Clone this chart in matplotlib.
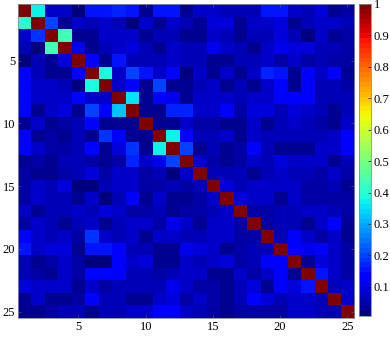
import numpy as np
import matplotlib
matplotlib.use("Agg")
import matplotlib.pyplot as plt

# 25x25 similarity matrix
row01 = [1, 0.37, 0.08, 0.07, 0.02, 0.15, 0.15, 0.17, 0.16, 0.03, 0.15, 0.15, 0.03, 0.07, 0.07, 0.06, 0.06, 0.06, 0.15, 0.16, 0.07, 0.06, 0.09, 0.03, 0.04]
row02 = [0.40, 1, 0.20, 0.03, 0.07, 0.06, 0.07, 0.06, 0.02, 0.07, 0.03, 0.08, 0.06, 0.03, 0.09, 0.09, 0.03, 0.07, 0.07, 0.09, 0.03, 0.06, 0.08, 0.07, 0.06]
row03 = [0.07, 0.18, 1, 0.44, 0.03, 0.03, 0.07, 0.07, 0.07, 0.03, 0.06, 0.06, 0.03, 0.03, 0.07, 0.06, 0.03, 0.06, 0.06, 0.09, 0.06, 0.02, 0.08, 0.03, 0.04]
row04 = [0.06, 0.02, 0.44, 1, 0.11, 0.03, 0.06, 0.08, 0.09, 0.06, 0.03, 0.07, 0.06, 0.06, 0.11, 0.07, 0.06, 0.03, 0.07, 0.11, 0.09, 0.09, 0.06, 0.06, 0.04]
row05 = [0.02, 0.06, 0.03, 0.09, 1, 0.13, 0.03, 0.15, 0.06, 0.06, 0.06, 0.07, 0.06, 0.06, 0.03, 0.03, 0.06, 0.06, 0.07, 0.04, 0.07, 0.04, 0.06, 0.04, 0.04]
row06 = [0.13, 0.06, 0.03, 0.03, 0.13, 1, 0.38, 0.08, 0.20, 0.15, 0.07, 0.14, 0.02, 0.08, 0.03, 0.08, 0.03, 0.07, 0.17, 0.15, 0.03, 0.12, 0.07, 0.12, 0.03]
row07 = [0.12, 0.07, 0.08, 0.06, 0.02, 0.38, 1, 0.08, 0.12, 0.03, 0.20, 0.03, 0.03, 0.06, 0.07, 0.03, 0.06, 0.03, 0.07, 0.14, 0.03, 0.12, 0.06, 0.06, 0.04]
row08 = [0.14, 0.07, 0.07, 0.08, 0.14, 0.08, 0.08, 1, 0.35, 0.03, 0.13, 0.11, 0.03, 0.08, 0.08, 0.07, 0.06, 0.07, 0.07, 0.12, 0.12, 0.12, 0.06, 0.06, 0.06]
row09 = [0.13, 0.03, 0.07, 0.09, 0.03, 0.20, 0.12, 0.33, 1, 0.03, 0.03, 0.17, 0.17, 0.08, 0.07, 0.12, 0.04, 0.09, 0.09, 0.06, 0.09, 0.07, 0.06, 0.03, 0.06]
row10 = [0.03, 0.07, 0.03, 0.04, 0.06, 0.14, 0.03, 0.03, 0.03, 1, 0.03, 0.03, 0.08, 0.04, 0.04, 0.03, 0.03, 0.08, 0.03, 0.06, 0.08, 0.06, 0.04, 0.03, 0.07]
row11 = [0.13, 0.03, 0.04, 0.03, 0.06, 0.03, 0.18, 0.12, 0.03, 0.03, 1, 0.37, 0.12, 0.06, 0.06, 0.08, 0.03, 0.07, 0.06, 0.06, 0.06, 0.06, 0.06, 0.07, 0.12]
row12 = [0.12, 0.07, 0.04, 0.04, 0.06, 0.14, 0.03, 0.09, 0.18, 0.03, 0.37, 1, 0.20, 0.03, 0.06, 0.03, 0.04, 0.12, 0.06, 0.03, 0.03, 0.03, 0.08, 0.08, 0.12]
row13 = [0.03, 0.04, 0.03, 0.06, 0.06, 0.04, 0.03, 0.04, 0.17, 0.08, 0.11, 0.20, 1, 0.08, 0.04, 0.03, 0.04, 0.07, 0.06, 0.09, 0.08, 0.08, 0.07, 0.03, 0.06]
row14 = [0.04, 0.03, 0.03, 0.04, 0.06, 0.09, 0.04, 0.07, 0.08, 0.04, 0.06, 0.02, 0.08, 1, 0.06, 0.06, 0.06, 0.03, 0.06, 0.08, 0.06, 0.06, 0.04, 0.08, 0.04]
row15 = [0.04, 0.08, 0.06, 0.09, 0.02, 0.02, 0.06, 0.07, 0.07, 0.04, 0.04, 0.06, 0.04, 0.06, 1, 0.09, 0.06, 0.07, 0.07, 0.07, 0.07, 0.04, 0.04, 0.06, 0.03]
row16 = [0.04, 0.08, 0.06, 0.06, 0.03, 0.08, 0.02, 0.06, 0.13, 0.03, 0.08, 0.03, 0.03, 0.04, 0.08, 1, 0.09, 0.07, 0.07, 0.03, 0.08, 0.04, 0.04, 0.04, 0.04]
row17 = [0.07, 0.03, 0.06, 0.06, 0.07, 0.06, 0.09, 0.08, 0.05, 0.04, 0.06, 0.03, 0.04, 0.04, 0.06, 0.08, 1, 0.04, 0.04, 0.06, 0.06, 0.08, 0.08, 0.06, 0.04]
row18 = [0.04, 0.07, 0.06, 0.03, 0.06, 0.07, 0.03, 0.06, 0.08, 0.08, 0.04, 0.11, 0.07, 0.03, 0.07, 0.07, 0.04, 1, 0.04, 0.06, 0.06, 0.03, 0.07, 0.13, 0.03]
row19 = [0.13, 0.07, 0.06, 0.07, 0.04, 0.18, 0.08, 0.06, 0.07, 0.03, 0.07, 0.08, 0.06, 0.06, 0.07, 0.07, 0.04, 0.04, 1, 0.06, 0.13, 0.08, 0.04, 0.08, 0.03]
row20 = [0.16, 0.08, 0.09, 0.09, 0.03, 0.15, 0.15, 0.13, 0.06, 0.06, 0.03, 0.03, 0.11, 0.09, 0.07, 0.03, 0.04, 0.06, 0.06, 1, 0.12, 0.11, 0.13, 0.07, 0.04]
row21 = [0.06, 0.03, 0.04, 0.08, 0.04, 0.02, 0.02, 0.13, 0.07, 0.09, 0.03, 0.03, 0.08, 0.06, 0.07, 0.09, 0.04, 0.06, 0.13, 0.12, 1, 0.03, 0.09, 0.07, 0.04]
row22 = [0.06, 0.04, 0.03, 0.08, 0.04, 0.14, 0.14, 0.12, 0.06, 0.06, 0.04, 0.06, 0.08, 0.07, 0.03, 0.03, 0.08, 0.04, 0.08, 0.12, 0.03, 1, 0.15, 0.07, 0.04]
row23 = [0.09, 0.08, 0.08, 0.07, 0.03, 0.08, 0.04, 0.06, 0.06, 0.06, 0.06, 0.11, 0.07, 0.04, 0.04, 0.03, 0.06, 0.09, 0.03, 0.13, 0.09, 0.16, 1, 0.06, 0.08]
row24 = [0.03, 0.08, 0.03, 0.03, 0.04, 0.13, 0.06, 0.06, 0.03, 0.03, 0.07, 0.09, 0.04, 0.08, 0.04, 0.03, 0.06, 0.13, 0.09, 0.06, 0.07, 0.07, 0.06, 1, 0.07]
row25 = [0.03, 0.03, 0.04, 0.06, 0.06, 0.03, 0.06, 0.06, 0.07, 0.07, 0.12, 0.12, 0.07, 0.06, 0.04, 0.03, 0.04, 0.04, 0.04, 0.04, 0.08, 0.07, 0.06, 0.06, 1]

matrix = np.array([row01, row02, row03, row04, row05, row06, row07, row08, row09, row10,
                   row11, row12, row13, row14, row15, row16, row17, row18, row19, row20,
                   row21, row22, row23, row24, row25])
axis_ticks = [5, 10, 15, 20, 25]
cbar_ticks = [0.1, 0.2, 0.3, 0.4, 0.5, 0.6, 0.7, 0.8, 0.9, 1]
cbar_labels = ["0.1", "0.2", "0.3", "0.4", "0.5", "0.6", "0.7", "0.8", "0.9", "1"]

plt.rcParams["font.family"] = ["Liberation Serif", "DejaVu Serif"]
plt.rcParams["font.size"] = 9

fig = plt.figure(figsize=(3.9, 3.38), dpi=100)
ax = fig.add_axes([18 / 390, 20 / 338, 336 / 390, 314 / 338])
cax = fig.add_axes([359 / 390, 22 / 338, 12 / 390, 312 / 338])

n = matrix.shape[0]
im = ax.imshow(matrix, cmap=plt.get_cmap("jet", 64), vmin=0.007, vmax=1,
               aspect="auto", interpolation="nearest",
               extent=(0.5, n + 0.5, n + 0.5, 0.5))

ax.set_xticks(axis_ticks)
ax.set_yticks(axis_ticks)
ax.tick_params(direction="in", length=2.5, width=0.5, color="#555555",
               top=True, right=True, pad=2)
for s in ax.spines.values():
    s.set_linewidth(0.6)
    s.set_color("#8a8aa0")

cb = fig.colorbar(im, cax=cax, ticks=cbar_ticks)
cb.ax.set_yticklabels(cbar_labels)
cb.ax.tick_params(direction="in", length=2, width=0.5, pad=2)
cb.outline.set_linewidth(0.6)
cb.outline.set_edgecolor("#8a8aa0")

fig.savefig("out.png", dpi=100)
